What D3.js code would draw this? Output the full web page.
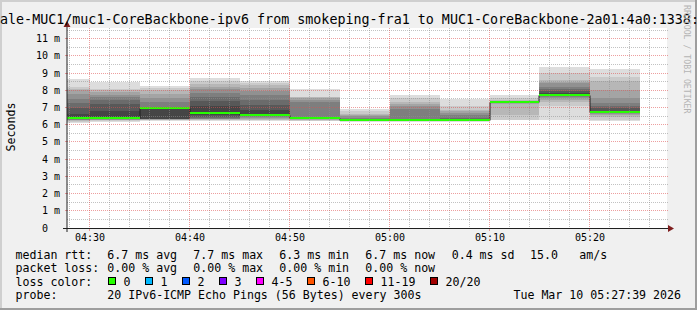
<!DOCTYPE html>
<html>
<head>
<meta charset="utf-8">
<script src="https://cdn.jsdelivr.net/npm/d3@7"></script>
<style>
  body { margin: 0; background: #f0f0f0; }
  svg text { font-family: "DejaVu Sans Mono", monospace; }
</style>
</head>
<body>
<svg id="chart"></svg>
<script>
// Svg set up
var svgWidth = 697;
var svgHeight = 310;

// canvas box (rrdtool plot area)
var plot = { left: 67, right: 667, top: 28, bottom: 228 };

// Data
var timeStart = "04:27:45";
var timeEnd = "05:27:45";
var blockEnds = ["04:30", "04:35", "04:40", "04:45", "04:50", "04:55",
  "05:00", "05:05", "05:10", "05:15", "05:20", "05:25"];
var medians = [6.38, 6.42, 6.95, 6.69, 6.58, 6.40, 6.26, 6.26, 6.26, 7.33, 7.74, 6.73];
var losses = [0, 0, 0, 0, 0, 0, 0, 0, 0, 0, 0, 0];
// 20 sorted ping rtts (ms) per 5 minute step
var smokePings = [
  [6.12, 6.18, 6.22, 6.25, 6.28, 6.30, 6.32, 6.34, 6.36, 6.38, 6.40, 6.60, 7.00, 7.27, 7.50, 7.80, 8.00, 8.10, 8.20, 8.67],
  [6.17, 6.22, 6.25, 6.28, 6.30, 6.32, 6.34, 6.36, 6.38, 6.40, 6.44, 6.80, 7.20, 7.45, 7.60, 7.75, 7.90, 8.00, 8.09, 8.48],
  [6.22, 6.27, 6.29, 6.30, 6.31, 6.32, 6.33, 6.34, 6.35, 6.90, 6.96, 6.98, 7.02, 7.05, 7.30, 7.55, 7.80, 8.00, 8.13, 8.27],
  [6.20, 6.25, 6.30, 6.32, 6.34, 6.36, 6.40, 6.45, 6.55, 6.68, 6.74, 7.10, 7.35, 7.60, 7.85, 8.05, 8.20, 8.35, 8.52, 8.71],
  [6.19, 6.25, 6.29, 6.35, 6.42, 6.46, 6.49, 6.52, 6.55, 6.57, 6.60, 6.87, 7.16, 7.45, 7.74, 7.95, 8.15, 8.30, 8.42, 8.52],
  [6.19, 6.24, 6.28, 6.30, 6.32, 6.33, 6.35, 6.36, 6.37, 6.38, 6.39, 6.40, 6.42, 6.45, 7.30, 7.45, 7.55, 7.60, 7.64, 8.09],
  [6.17, 6.20, 6.22, 6.23, 6.24, 6.24, 6.25, 6.25, 6.25, 6.26, 6.26, 6.27, 6.28, 6.30, 6.40, 6.48, 6.56, 6.62, 6.77, 6.92],
  [6.17, 6.20, 6.22, 6.23, 6.24, 6.25, 6.25, 6.26, 6.26, 6.26, 6.27, 6.28, 6.30, 6.35, 6.90, 7.06, 7.20, 7.32, 7.55, 7.74],
  [6.17, 6.20, 6.22, 6.23, 6.24, 6.25, 6.25, 6.26, 6.26, 6.26, 6.27, 6.28, 6.30, 6.40, 6.58, 6.70, 6.80, 6.87, 7.06, 7.51],
  [6.25, 6.29, 6.58, 7.20, 7.25, 7.27, 7.29, 7.30, 7.31, 7.32, 7.34, 7.35, 7.36, 7.37, 7.38, 7.39, 7.40, 7.45, 7.55, 7.74],
  [6.27, 7.10, 7.30, 7.45, 7.55, 7.62, 7.68, 7.72, 7.74, 7.75, 7.78, 7.85, 7.95, 8.05, 8.22, 8.40, 8.50, 8.60, 9.00, 9.33],
  [6.22, 6.29, 6.45, 6.58, 6.65, 6.68, 6.70, 6.71, 6.72, 6.73, 6.74, 6.80, 6.95, 7.06, 7.26, 7.57, 8.03, 8.52, 8.75, 9.25]
];
var yMax = 11.62;
var yMajorTicks = [0, 1, 2, 3, 4, 5, 6, 7, 8, 9, 10, 11];

var titleText = "ale-MUC1/muc1-CoreBackbone-ipv6 from smokeping-fra1 to MUC1-CoreBackbone-2a01:4a0:1338::1";
var rttStats = ["6.7 ms avg", "7.7 ms max", "6.3 ms min", "6.7 ms now", "0.4 ms sd", "15.0", "am/s"];
var lossStats = ["0.00 % avg", "0.00 % max", "0.00 % min", "0.00 % now"];
var lossLabels = ["0", "1", "2", "3", "4-5", "6-10", "11-19", "20/20"];
var lossColors = ["#26ff00", "#00b8ff", "#0059ff", "#7e00ff", "#ff00ff", "#ff5500", "#ff0000", "#a10000"];
var probeText = "20 IPv6-ICMP Echo Pings (56 Bytes) every 300s";
var stampText = "Tue Mar 10 05:27:39 2026";

var parseTime = d3.timeParse("%Y-%m-%d %H:%M:%S");
function toDate(s) {
  if (s.length === 5) s = s + ":00";
  return parseTime("2026-03-10 " + s);
}

var svg = d3.select("#chart")
  .attr("width", svgWidth)
  .attr("height", svgHeight);

// background + 3d shade border
svg.append("rect").attr("width", svgWidth).attr("height", svgHeight).attr("fill", "#f0f0f0");
svg.append("rect").attr("x", 0).attr("y", 0).attr("width", svgWidth).attr("height", 2).attr("fill", "#cfcfcf");
svg.append("rect").attr("x", 0).attr("y", 0).attr("width", 2).attr("height", svgHeight).attr("fill", "#cfcfcf");
svg.append("rect").attr("x", 0).attr("y", svgHeight - 2).attr("width", svgWidth).attr("height", 2).attr("fill", "#9e9e9e");
svg.append("rect").attr("x", svgWidth - 2).attr("y", 0).attr("width", 2).attr("height", svgHeight).attr("fill", "#9e9e9e");

// canvas
svg.append("rect")
  .attr("x", plot.left).attr("y", plot.top)
  .attr("width", plot.right - plot.left).attr("height", plot.bottom - plot.top)
  .attr("fill", "#ffffff");

// scales
var xScale = d3.scaleTime()
  .domain([toDate(timeStart), toDate(timeEnd)])
  .range([plot.left, plot.right]);

var yScale = d3.scaleLinear()
  .domain([0, yMax])
  .range([plot.bottom, plot.top]);

// smoke
function smokeGray(k) {
  var c = Math.floor(190 / 10 * (10 - k)) + 50;
  return d3.rgb(c, c, c).toString();
}

var blocks = blockEnds.map(function(e, i) {
  var end = toDate(e);
  var start = d3.timeMinute.offset(end, -5);
  var x0 = Math.max(plot.left, Math.round(xScale(start)));
  var x1 = Math.round(xScale(end));
  return { x0: x0, x1: x1, pings: smokePings[i], median: medians[i], loss: losses[i] };
});

var smokeGroup = svg.append("g").attr("class", "smoke");
blocks.forEach(function(b) {
  for (var k = 1; k <= 10; k++) {
    var lo = b.pings[k - 1];
    var hi = b.pings[20 - k];
    var yTop = Math.round(yScale(hi));
    var yBot = Math.round(yScale(lo));
    smokeGroup.append("rect")
      .attr("x", b.x0).attr("y", yTop)
      .attr("width", b.x1 - b.x0).attr("height", Math.max(0, yBot - yTop))
      .attr("fill", smokeGray(k));
  }
});

// median step line
var stepPts = blocks.map(function(b) { return [b.x0, Math.round(yScale(b.median)) + 0.5]; });
stepPts.push([blocks[blocks.length - 1].x1, stepPts[stepPts.length - 1][1]]);
svg.append("path")
  .attr("d", d3.line().curve(d3.curveStepAfter)(stepPts))
  .attr("fill", "none")
  .attr("stroke", "#202020")
  .attr("stroke-width", 1);

// coloured median band
svg.selectAll(".medianBand")
  .data(blocks)
  .enter()
  .append("rect")
  .attr("class", "medianBand")
  .attr("x", d => d.x0)
  .attr("y", d => Math.round(yScale(d.median)) - 1)
  .attr("width", d => d.x1 - d.x0)
  .attr("height", 2)
  .attr("fill", d => lossColors[d.loss]);

// grid (drawn over the graph like rrdtool)
var gridColor = "rgba(143,143,143,0.55)";
var mgridColor = "rgba(222,80,80,0.55)";
var grid = svg.append("g").attr("class", "grid");

var minorX = d3.timeMinute.every(2).range(toDate(timeStart), toDate(timeEnd));
var majorX = d3.timeMinute.every(10).range(toDate(timeStart), toDate(timeEnd));

minorX.forEach(function(t) {
  if (t.getMinutes() % 10 === 0) return;
  var x = Math.floor(xScale(t)) + 0.5;
  grid.append("line").attr("x1", x).attr("x2", x).attr("y1", plot.top).attr("y2", plot.bottom)
    .attr("stroke", gridColor).attr("stroke-dasharray", "1,1");
});

var minorY = d3.range(0.5, yMax, 1);
minorY.forEach(function(v) {
  var y = Math.floor(yScale(v)) + 0.5;
  grid.append("line").attr("x1", plot.left).attr("x2", plot.right + 1).attr("y1", y).attr("y2", y)
    .attr("stroke", gridColor).attr("stroke-dasharray", "1,1");
});

majorX.forEach(function(t) {
  var x = Math.floor(xScale(t)) + 0.5;
  grid.append("line").attr("x1", x).attr("x2", x).attr("y1", plot.top).attr("y2", plot.bottom)
    .attr("stroke", mgridColor).attr("stroke-dasharray", "1,1");
  grid.append("line").attr("x1", x).attr("x2", x).attr("y1", plot.bottom).attr("y2", plot.bottom + 3)
    .attr("stroke", mgridColor);
});

yMajorTicks.forEach(function(v) {
  if (v === 0) return;
  var y = Math.floor(yScale(v)) + 0.5;
  grid.append("line").attr("x1", plot.left).attr("x2", plot.right + 1).attr("y1", y).attr("y2", y)
    .attr("stroke", mgridColor).attr("stroke-dasharray", "1,1");
  grid.append("line").attr("x1", plot.left - 2).attr("x2", plot.left).attr("y1", y).attr("y2", y)
    .attr("stroke", mgridColor);
});

// axes
var axisColor = "#202020";
var arrowColor = "#7f1f1f";
svg.append("line")
  .attr("x1", plot.left - 4).attr("x2", plot.right + 4)
  .attr("y1", plot.bottom + 0.5).attr("y2", plot.bottom + 0.5)
  .attr("stroke", axisColor);
svg.append("line")
  .attr("x1", plot.left).attr("x2", plot.left)
  .attr("y1", plot.bottom + 4).attr("y2", plot.top - 4)
  .attr("stroke", axisColor);
svg.append("path")
  .attr("d", `M${plot.right + 1},${plot.bottom - 3} L${plot.right + 7},${plot.bottom + 0.5} L${plot.right + 1},${plot.bottom + 4} Z`)
  .attr("fill", arrowColor);
svg.append("path")
  .attr("d", `M${plot.left - 3.5},${plot.top - 1} L${plot.left},${plot.top - 7} L${plot.left + 3.5},${plot.top - 1} Z`)
  .attr("fill", arrowColor);

// axis labels
var timeFmt = d3.timeFormat("%H:%M");
svg.selectAll(".xlab")
  .data(majorX)
  .enter()
  .append("text")
  .attr("class", "xlab")
  .attr("x", d => Math.floor(xScale(d)) + 1)
  .attr("y", 240.5)
  .attr("text-anchor", "middle")
  .attr("font-size", "10px")
  .text(d => timeFmt(d));

svg.selectAll(".ylab")
  .data(yMajorTicks)
  .enter()
  .append("text")
  .attr("class", "ylab")
  .attr("x", d => d === 0 ? 48 : 60)
  .attr("y", d => Math.floor(yScale(d)) + 4)
  .attr("text-anchor", "end")
  .attr("font-size", "10px")
  .text(d => d === 0 ? "0" : d + " m");

svg.append("text")
  .attr("transform", "translate(14.5, 127) rotate(-90)")
  .attr("text-anchor", "middle")
  .attr("font-size", "11.6px")
  .text("Seconds");

// title
svg.append("text")
  .attr("x", 0)
  .attr("y", 24)
  .attr("font-size", "13.35px")
  .text(titleText);

// watermark
svg.append("text")
  .attr("transform", "translate(683.5, 5) rotate(90)")
  .attr("font-size", "8.2px")
  .attr("fill", "#b4b4b4")
  .text("RRDTOOL / TOBI OETIKER");

// legend
var legendFont = "11.6px";
var cols = [107.3, 193.3, 279.3, 365.3, 451.7, 530, 579.3];
var rows = [258.5, 272, 285.5, 299];
var legend = svg.append("g").attr("font-size", legendFont);

function legendText(x, y, s) {
  legend.append("text").attr("x", x).attr("y", y).attr("xml:space", "preserve").text(s);
}

legendText(15.5, rows[0], "median rtt:");
rttStats.forEach(function(s, i) { legendText(cols[i], rows[0], s); });

legendText(15.5, rows[1], "packet loss:");
lossStats.forEach(function(s, i) { legendText(cols[i], rows[1], s); });

legendText(15.5, rows[2], "loss color:");
var swatchX = [108.5, 145.5, 182.5, 219.5, 256.5, 307.5, 365.5, 430.5];
lossLabels.forEach(function(s, i) {
  legend.append("rect")
    .attr("x", swatchX[i]).attr("y", 277.5)
    .attr("width", 7).attr("height", 7)
    .attr("fill", lossColors[i])
    .attr("stroke", "#000").attr("stroke-width", 1);
  legendText(swatchX[i] + 15, rows[2], s);
});

legendText(15.5, rows[3], "probe:");
legendText(cols[0], rows[3], probeText);
legend.append("text")
  .attr("x", 681).attr("y", rows[3])
  .attr("text-anchor", "end")
  .text(stampText);
</script>
</body>
</html>
